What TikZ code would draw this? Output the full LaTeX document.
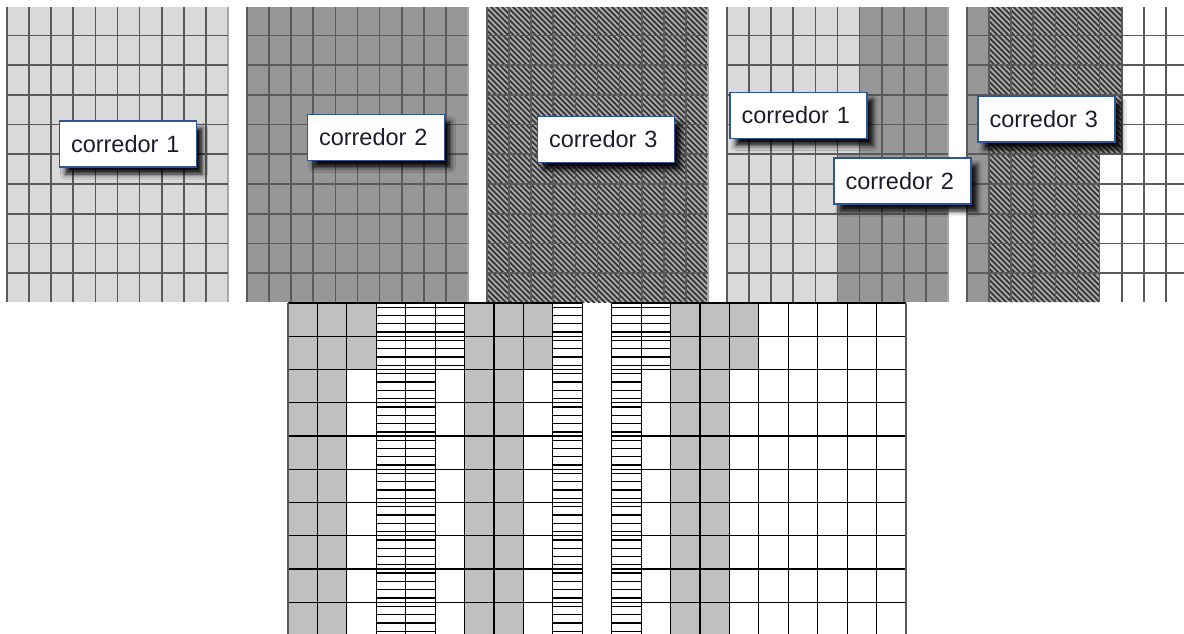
\documentclass[tikz,border=0pt]{standalone}
\usepackage{fontspec}
\setmainfont{Liberation Sans}
\usetikzlibrary{shadows.blur}

\definecolor{lightfill}{HTML}{D9D9D9}
\definecolor{midfill}{HTML}{979797}
\definecolor{gridline}{HTML}{5A5A5A}
\definecolor{gridedge}{HTML}{A8A8A8}
\definecolor{hatchdark}{HTML}{3A3A3A}
\definecolor{hatchlight}{HTML}{B0B0B0}
\definecolor{cellgray}{HTML}{C0C0C0}
\definecolor{boxedge}{HTML}{2F5597}
\definecolor{labeltext}{HTML}{1C1C2C}

% diagonal stripes inside a clip path; #2..#3 = stripe indices along the top line
\newcommand\diagstripes[3]{%
  \begin{scope}
    \clip #1;
    \fill[hatchlight] #1;
    \foreach \s in {#2,...,#3}
      \draw[hatchdark, line width=2.1pt] ({5.5*\s},0) -- ++(330,330);
  \end{scope}}

% horizontal rulings of one column of the lower grid; #1 = column, #2 = height
\newcommand\rulecolumn[2]{%
  \begin{scope}
    \clip ({288+29.43*#1},303) rectangle ++(29.43,#2);
    \foreach \m in {0,...,40}
      \draw[black, line width=1.3pt] ({288+29.43*#1},{307.2+8.31*\m}) -- ++(29.43,0);
  \end{scope}}

\tikzset{
  topgrid/.style={gridline, line width=1.7pt},
  topedge/.style={gridedge, line width=1.2pt},
  lowgrid/.style={black, line width=1.2pt},
  corridorlabel/.style={draw=boxedge, line width=1.4pt, fill=white,
    font=\fontsize{23.5}{27}\selectfont, text=labeltext,
    text width=114pt, align=left, inner xsep=11.5pt, inner ysep=0pt,
    minimum height=46pt,
    blur shadow={shadow xshift=6pt, shadow yshift=-7pt,
      shadow blur radius=5pt, shadow opacity=95}},
}

\begin{document}
\begin{tikzpicture}[x=1pt, y=-1pt]
\useasboundingbox (0,0) rectangle (1184,633);
\begin{scope}
\clip (0,0) rectangle (1184,633);

% ---- upper row: five corridor sheets ----
% sheet 1
\fill[lightfill] (7,7) rectangle (228,302);
% sheet 2
\fill[midfill] (247,7) rectangle (468,302);
% sheet 3
\diagstripes{(487,7) rectangle (708,302)}{32}{130}
% sheet 4: corridors 1 and 2 side by side
\fill[midfill] (727,7) rectangle (948,302);
\fill[lightfill] (727,7) -- (859.6,7) -- (859.6,154.3) -- (837.5,154.3)
  -- (837.5,302) -- (727,302) -- cycle;
% sheet 5: corridor 2 edge, corridor 3, free cells
\fill[white] (967,7) rectangle (1188,302);
\fill[midfill] (967,7) rectangle (989.1,302);
\diagstripes{(989.1,7) -- (1121.7,7) -- (1121.7,154.3) -- (1099.6,154.3)
  -- (1099.6,302) -- (989.1,302) -- cycle}{124}{205}

% grid lines of the sheets
\foreach \px in {7,247,487,727,967} {
  \foreach \j in {0,...,9}
    \draw[topgrid] ({\px+22.1*\j},7) -- ({\px+22.1*\j},302);
  \draw[topedge] ({\px+221},7) -- ({\px+221},302);
  \foreach \k in {0,...,8}
    \draw[topgrid] (\px,{35.5+29.7*\k}) -- ({\px+221},{35.5+29.7*\k});
}

% ---- lower grid: combined layout ----
\foreach \c in {0,1,6,7,13,14}
  \fill[cellgray] ({288+29.43*\c},303) rectangle ++(29.43,335);
\foreach \c in {2,8,15}
  \fill[cellgray] ({288+29.43*\c},303) rectangle ++(29.43,66.5);
\foreach \c in {3,4,9,11} {\rulecolumn{\c}{335}}
\foreach \c in {5,12} {\rulecolumn{\c}{66.5}}

\foreach \j in {0,...,10}
  \draw[lowgrid] ({288+29.43*\j},303) -- ({288+29.43*\j},640);
\foreach \j in {11,...,21}
  \draw[lowgrid] ({288+29.43*\j},303) -- ({288+29.43*\j},640);
\foreach \r in {0,...,9} {
  \draw[lowgrid] (288,{303+33.25*\r}) -- (582.3,{303+33.25*\r});
  \draw[lowgrid] (611.7,{303+33.25*\r}) -- (906,{303+33.25*\r});
}
\draw[gridline, line width=1.8pt] (288,303) -- (288,640);
\draw[gridline, line width=1.6pt] (906,303) -- (906,640);

% ---- corridor labels ----
\node[corridorlabel] (c1a) at (128,144) {corredor 1};
\node[corridorlabel] (c2a) at (376,137.5) {corredor 2};
\node[corridorlabel] (c3a) at (606,139.5) {corredor 3};
\node[corridorlabel] (c1b) at (798.5,115.5) {corredor 1};
\node[corridorlabel] (c3b) at (1046.5,119) {corredor 3};
\node[corridorlabel] (c2b) at (902.5,181) {corredor 2};
\end{scope}
\end{tikzpicture}
\end{document}
